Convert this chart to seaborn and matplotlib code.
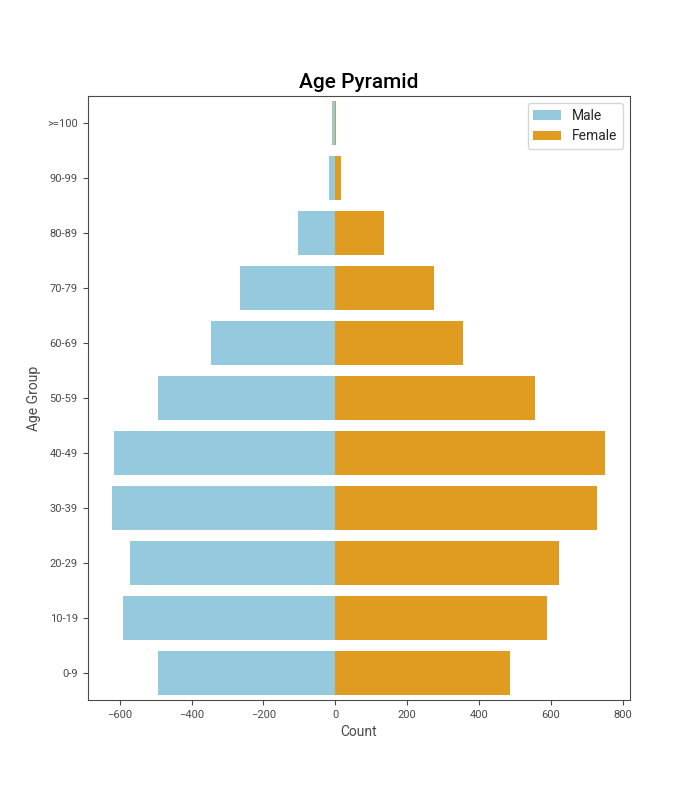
import matplotlib
matplotlib.use("Agg")
import matplotlib.pyplot as plt
import seaborn as sns
import pandas as pd

age_groups = [">=100", "90-99", "80-89", "70-79", "60-69", "50-59",
              "40-49", "30-39", "20-29", "10-19", "0-9"]
male_counts = [-10, -18, -104, -265, -346, -493, -615, -621, -571, -590, -492]
female_counts = [2, 16, 135, 275, 355, 555, 752, 730, 622, 589, 486]

sns.set_style("ticks")
plt.rcParams['font.family'] = ['Roboto', 'DejaVu Sans']
plt.rcParams['axes.edgecolor'] = '#4a4a4a'
plt.rcParams['xtick.color'] = '#4a4a4a'
plt.rcParams['ytick.color'] = '#4a4a4a'
plt.rcParams['axes.labelcolor'] = '#4a4a4a'

df = pd.DataFrame({"Age Group": age_groups, "Male": male_counts, "Female": female_counts})

fig, ax = plt.subplots(figsize=(7, 8), dpi=100)
fig.subplots_adjust(left=0.125, right=0.9, top=0.88, bottom=0.125)
sns.barplot(data=df, x="Male", y="Age Group", order=age_groups, color="skyblue",
            label="Male", linewidth=0, ax=ax)
sns.barplot(data=df, x="Female", y="Age Group", order=age_groups, color="orange",
            label="Female", linewidth=0, ax=ax)

ax.set_title("Age Pyramid", fontsize=15, fontweight="medium", color="black")
ax.set_xlabel("Count", fontsize=10)
ax.set_ylabel("Age Group", fontsize=10)
ax.tick_params(axis="both", labelsize=8)
ax.legend(loc="upper right", fontsize=10)

fig.savefig("out.png", dpi=100)
